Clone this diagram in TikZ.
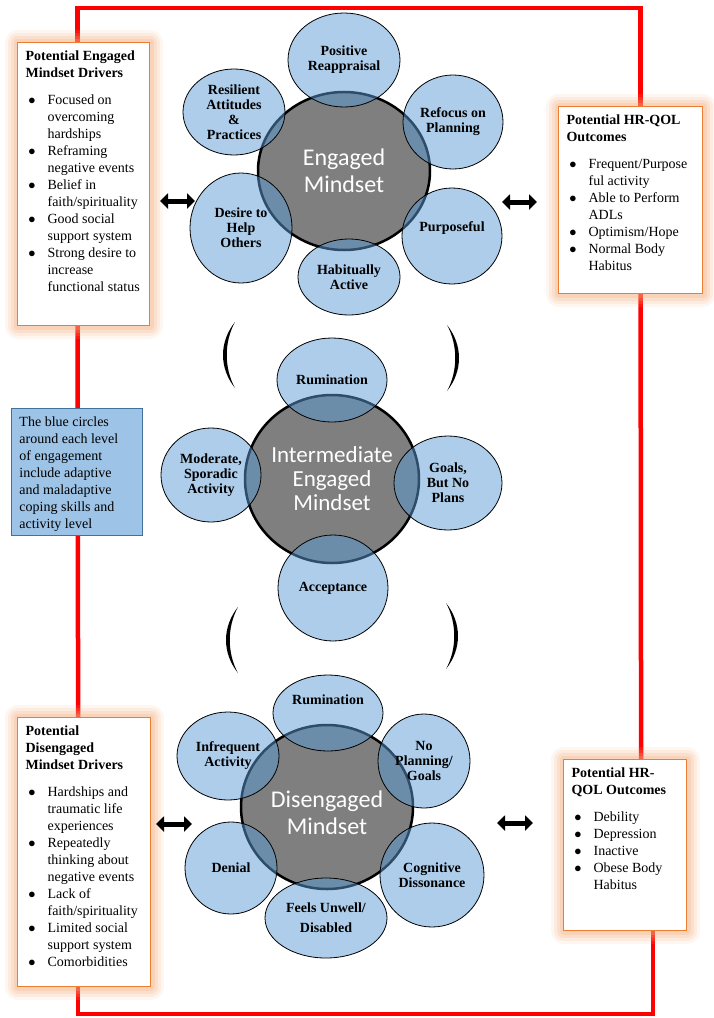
\documentclass[tikz,border=0pt]{standalone}
\usepackage{fontspec}
\setmainfont{Liberation Serif}
\newfontfamily\calibri{Carlito}
\usepackage{enumitem}
\setlist[itemize]{label=$\bullet$,leftmargin=22pt,labelsep=12pt,itemsep=0pt,parsep=0pt,topsep=10pt,partopsep=0pt}
\usetikzlibrary{shapes.geometric,arrows.meta,backgrounds}

\definecolor{linkred}{HTML}{FF0000}
\definecolor{glowc}{HTML}{F4B183}
\definecolor{drvborder}{HTML}{ED7D31}
\definecolor{copeblue}{HTML}{5B9BD5}
\definecolor{notefill}{HTML}{9DC3E6}
\definecolor{noteline}{HTML}{41719C}
\definecolor{mindgrey}{HTML}{7F7F7F}

\newcommand{\boxtext}[3]{\parbox[t][#2][t]{#1}{\raggedright #3}}

\tikzset{
  drvbox/.style={draw=drvborder, line width=1.2pt, fill=white, anchor=north west,
    inner xsep=8pt, inner ysep=8pt, font=\fontsize{14}{17}\selectfont,
    preaction={draw=glowc, line width=26pt, draw opacity=0.12, line join=round},
    preaction={draw=glowc, line width=20pt, draw opacity=0.16, line join=round},
    preaction={draw=glowc, line width=14pt, draw opacity=0.2, line join=round},
    preaction={draw=glowc, line width=8pt, draw opacity=0.25, line join=round}},
  notebox/.style={draw=noteline, line width=1pt, fill=notefill, anchor=north west,
    inner xsep=8pt, inner ysep=8pt, font=\fontsize{14}{17}\selectfont},
  mindcirc/.style={ellipse, draw=black, line width=2.5pt, fill=mindgrey, text=white,
    inner sep=0pt, align=center, font=\calibri\fontsize{24}{27}\selectfont},
  copecirc/.style={ellipse, draw=black, line width=0.8pt, fill=copeblue, fill opacity=0.5,
    text opacity=1, inner sep=0pt, align=center, font=\fontsize{14}{15}\selectfont\bfseries},
  copelbl/.style={inner sep=0pt, font=\fontsize{14}{15}\selectfont\bfseries},
  redlink/.style={draw=linkred, line width=4.5pt},
  dblarrow/.style={line width=5pt, {Triangle[length=8pt,width=15pt]}-{Triangle[length=8pt,width=15pt]}},
  brk/.pic={\fill (0,0) .. controls (-16,20) and (-16,46) .. (0,66) .. controls (-11,46) and (-11,20) .. (0,0) -- cycle;}
}

\begin{document}
\begin{tikzpicture}[x=1pt, y=-1pt]
\useasboundingbox (0,0) rectangle (714,1018);

\node[drvbox] (engdrv) at (17,42) {\boxtext{116pt}{267pt}{\textbf{Potential Engaged\\Mindset Drivers}
  \begin{itemize}
  \item Focused on\\overcoming\\hardships
  \item Reframing\\negative events
  \item Belief in\\faith/spirituality
  \item Good social\\support system
  \item Strong desire to\\increase\\functional status
  \end{itemize}}};
\node[drvbox] (engout) at (558,106) {\boxtext{128pt}{171pt}{\textbf{Potential HR-QOL\\Outcomes}
  \begin{itemize}
  \item Frequent/Purpose\\ful activity
  \item Able to Perform\\ADLs
  \item Optimism/Hope
  \item Normal Body\\Habitus
  \end{itemize}}};
\node[drvbox] (disdrv) at (17,717) {\boxtext{117pt}{253pt}{\textbf{Potential\\Disengaged\\Mindset Drivers}
  \begin{itemize}
  \item Hardships and\\traumatic life\\experiences
  \item Repeatedly\\thinking about\\negative events
  \item Lack of\\faith/spirituality
  \item Limited social\\support system
  \item Comorbidities
  \end{itemize}}};
\node[drvbox] (disout) at (563,759) {\boxtext{107pt}{155pt}{\textbf{Potential HR-\\QOL Outcomes}
  \begin{itemize}
  \item Debility
  \item Depression
  \item Inactive
  \item Obese Body\\Habitus
  \end{itemize}}};

\begin{scope}[on background layer]
\draw[redlink] ([xshift=-6pt]engdrv.north) -- ++(0,-34) -| ([xshift=10pt]engout.north);
\draw[redlink] ([xshift=-6pt]engdrv.south) -- ([xshift=-6pt]disdrv.north);
\draw[redlink] ([xshift=10pt]engout.south) -- ([xshift=16pt]disout.north);
\draw[redlink] ([xshift=-6pt]disdrv.south) -- ++(0,27) -| ([xshift=28pt]disout.south);
\end{scope}

\node[notebox] (note) at (11,408) {\boxtext{115pt}{111pt}{The blue circles\\around each level\\of engagement\\include adaptive\\and maladaptive\\coping skills and\\activity level}};

\node[mindcirc, minimum width=172pt, minimum height=158pt] (engaged) at (344,171) {Engaged\\Mindset};
\node[copecirc, minimum width=112pt, minimum height=94pt] (posreap) at (344,60) {Positive\\Reappraisal};
\node[copecirc, minimum width=102pt, minimum height=86pt] (resil) at (234,112) {Resilient\\Attitudes\\\&\\Practices};
\node[copecirc, minimum width=100pt, minimum height=94pt] (refocus) at (453,122) {Refocus on\\Planning};
\node[copecirc, minimum width=102pt, minimum height=110pt] (helpoth) at (241,228) {Desire to\\Help\\Others};
\node[copecirc, minimum width=100pt, minimum height=96pt, label={[copelbl, yshift=8pt]center:Purposeful}] (purpose) at (452,236) {};
\node[copecirc, minimum width=102pt, minimum height=76pt] (habit) at (349,277) {Habitually\\Active};

\node[mindcirc, minimum width=174pt, minimum height=168pt, font=\calibri\fontsize{23}{24}\selectfont] (inter) at (332,479) {Intermediate\\Engaged\\Mindset};
\node[copecirc, minimum width=110pt, minimum height=84pt] (rumin1) at (332,380) {Rumination};
\node[copecirc, minimum width=100pt, minimum height=94pt] (moder) at (211,475) {Moderate,\\Sporadic\\Activity};
\node[copecirc, minimum width=108pt, minimum height=94pt] (goals) at (448,483) {Goals,\\But No\\Plans};
\node[copecirc, minimum width=110pt, minimum height=106pt] (accept) at (333,588) {Acceptance};

\node[mindcirc, minimum width=172pt, minimum height=164pt, label={[mindcirc, draw=none, fill=none, yshift=-6pt]center:Disengaged\\Mindset}] (diseng) at (327,807) {};
\node[copecirc, minimum width=110pt, minimum height=76pt, label={[copelbl, yshift=13pt]center:Rumination}] (rumin2) at (328,713) {};
\node[copecirc, minimum width=102pt, minimum height=88pt] (infreq) at (228,756) {Infrequent\\Activity};
\node[copecirc, minimum width=92pt, minimum height=94pt] (noplan) at (424,761) {No\\Planning/\\Goals};
\node[copecirc, minimum width=92pt, minimum height=92pt] (denial) at (231,868) {Denial};
\node[copecirc, minimum width=104pt, minimum height=104pt] (cogdis) at (432,875) {Cognitive\\Dissonance};
\node[copecirc, minimum width=122pt, minimum height=80pt] (unwell) at (326,918) {Feels Unwell/\\[5pt]Disabled};

\pic at (235,322) {brk};
\pic[xscale=-1] at (447,325) {brk};
\pic at (238,607) {brk};
\pic[xscale=-1] at (446,603) {brk};

\coordinate (engarrL) at (160,201);
\coordinate (engarrR) at (195,201);
\coordinate (outarrL) at (502,202);
\coordinate (outarrR) at (537,202);
\coordinate (disarrL) at (156,824);
\coordinate (disarrR) at (192,824);
\coordinate (dooarrL) at (497,823);
\coordinate (dooarrR) at (533,823);
\draw[dblarrow] (engarrL) -- (engarrR);
\draw[dblarrow] (outarrL) -- (outarrR);
\draw[dblarrow] (disarrL) -- (disarrR);
\draw[dblarrow] (dooarrL) -- (dooarrR);
\end{tikzpicture}
\end{document}
